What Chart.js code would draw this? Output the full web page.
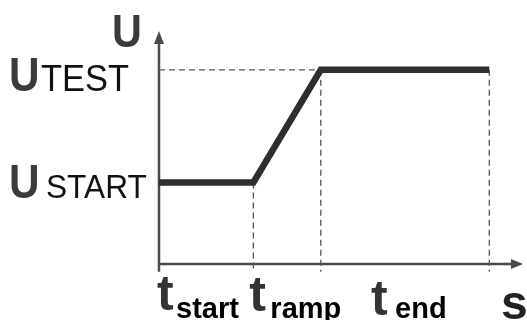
<!DOCTYPE html>
<html lang="en">
<head>
    <meta charset="UTF-8">
    <title>Voltage ramp</title>
    <script src="https://cdn.jsdelivr.net/npm/chart.js"></script>
    <style>
        html, body { margin: 0; padding: 0; background: #fff; }
        .chart-box { width: 527px; height: 320px; position: relative; }
    </style>
</head>
<body>
    <div class="chart-box">
        <canvas id="rampChart"></canvas>
    </div>

    <script>
        // ramp profile: time points and voltage at each point
        const times = [0, 2.8, 4.8, 9.8];
        const voltage = [2.1, 2.1, 5.0, 5.0];
        // voltage levels named on the left
        const levelNames = ['START', 'TEST'];
        const levels = [2.1, 5.0];
        // time marks named under the axis
        const timeNames = ['start', 'ramp', 'end'];
        const xMax = 10.8;
        const yMax = 6.0;
        const floor = -0.2;

        const profile = times.map((t, i) => ({ x: t, y: voltage[i] }));

        const guide = (points) => ({
            data: points,
            borderColor: '#555',
            borderWidth: 1.3,
            borderDash: [6, 4],
            pointRadius: 0,
            clip: false,
            order: 2
        });

        const guides = [
            guide([{ x: times[0], y: levels[1] }, { x: times[2], y: levels[1] }]),
            guide([{ x: times[1], y: voltage[1] }, { x: times[1], y: floor }]),
            guide([{ x: times[2], y: voltage[2] }, { x: times[2], y: floor }]),
            guide([{ x: times[3], y: voltage[3] }, { x: times[3], y: floor }])
        ];

        function arrow(ctx, tipX, tipY, dir) {
            ctx.beginPath();
            if (dir === 'up') {
                ctx.moveTo(tipX, tipY);
                ctx.lineTo(tipX - 5, tipY + 13);
                ctx.lineTo(tipX + 5, tipY + 13);
            } else {
                ctx.moveTo(tipX, tipY);
                ctx.lineTo(tipX - 12, tipY - 5);
                ctx.lineTo(tipX - 12, tipY + 5);
            }
            ctx.closePath();
            ctx.fill();
        }

        function squeezed(ctx, text, x, y, font, color, sx) {
            ctx.save();
            ctx.translate(x, y);
            ctx.scale(sx, 1);
            ctx.font = font;
            ctx.fillStyle = color;
            ctx.textBaseline = 'alphabetic';
            ctx.fillText(text, 0, 0);
            ctx.restore();
        }

        const axesPlugin = {
            id: 'axes',
            beforeDatasetsDraw(chart) {
                const { ctx, scales: { x, y } } = chart;
                const x0 = x.getPixelForValue(0);
                const y0 = y.getPixelForValue(0);
                ctx.save();
                ctx.strokeStyle = '#4a4a4a';
                ctx.fillStyle = '#4a4a4a';
                ctx.lineWidth = 2.5;
                ctx.beginPath();
                ctx.moveTo(x0, y.getPixelForValue(floor));
                ctx.lineTo(x0, y.getPixelForValue(yMax) + 8);
                ctx.moveTo(x0, y0);
                ctx.lineTo(x.getPixelForValue(xMax) - 8, y0);
                ctx.stroke();
                arrow(ctx, x0, y.getPixelForValue(yMax), 'up');
                arrow(ctx, x.getPixelForValue(xMax), y0, 'right');
                ctx.restore();
            },
            afterDraw(chart) {
                const { ctx, scales: { x, y } } = chart;
                const big = 'bold 48px "Liberation Sans", Arial, sans-serif';
                const reg = (s) => s + 'px "Liberation Sans", Arial, sans-serif';
                const sub = 'bold 29px "Liberation Sans", Arial, sans-serif';

                // axis name
                squeezed(ctx, 'U', 112, y.getPixelForValue(yMax) + 16, 'bold 47px "Liberation Sans", Arial, sans-serif', '#3a3a3a', 0.88);

                // level names
                const levelStyle = [{ dy: 16, size: 34, dx: 46 }, { dy: 21, size: 37, dx: 41 }];
                levels.forEach((v, i) => {
                    const base = y.getPixelForValue(v) + levelStyle[i].dy;
                    squeezed(ctx, 'U', 9, base, big, '#3a3a3a', 0.88);
                    squeezed(ctx, levelNames[i], levelStyle[i].dx, base, reg(levelStyle[i].size), '#111', 0.93);
                });

                // time names
                const tStart = x.getPixelForValue(times[0]);
                const tRamp = x.getPixelForValue(times[1]);
                const tHold = (x.getPixelForValue(times[2]) + x.getPixelForValue(times[3])) / 2;
                const marks = [
                    { tx: tStart - 2, tb: 310, sx: tStart + 17 },
                    { tx: tRamp - 4, tb: 311, sx: tRamp + 17 },
                    { tx: tHold - 34, tb: 315, sx: tHold - 10 }
                ];
                marks.forEach((m, i) => {
                    ctx.save();
                    ctx.textBaseline = 'alphabetic';
                    ctx.font = 'bold 50px "Liberation Sans", Arial, sans-serif';
                    ctx.fillStyle = '#333';
                    ctx.fillText('t', m.tx, m.tb);
                    ctx.font = sub;
                    ctx.fillStyle = '#000';
                    ctx.fillText(timeNames[i], m.sx, 318);
                    ctx.restore();
                });

                // time unit
                ctx.save();
                ctx.font = big;
                ctx.fillStyle = '#222';
                ctx.textBaseline = 'alphabetic';
                ctx.fillText('s', x.getPixelForValue(xMax) - 22, 319);
                ctx.restore();
            }
        };

        new Chart(document.getElementById('rampChart').getContext('2d'), {
            type: 'line',
            data: {
                datasets: [{
                    data: profile,
                    borderColor: '#2e2e2e',
                    borderWidth: 6.5,
                    borderJoinStyle: 'miter',
                    borderCapStyle: 'butt',
                    pointRadius: 0,
                    tension: 0,
                    clip: false,
                    order: 1
                }, ...guides]
            },
            options: {
                responsive: true,
                maintainAspectRatio: false,
                animation: false,
                layout: { padding: { left: 159, right: 4, top: 31, bottom: 56 } },
                plugins: { legend: { display: false }, tooltip: { enabled: false } },
                scales: {
                    x: { type: 'linear', min: 0, max: xMax, display: false },
                    y: { type: 'linear', min: 0, max: yMax, display: false }
                }
            },
            plugins: [axesPlugin]
        });
    </script>
</body>
</html>
